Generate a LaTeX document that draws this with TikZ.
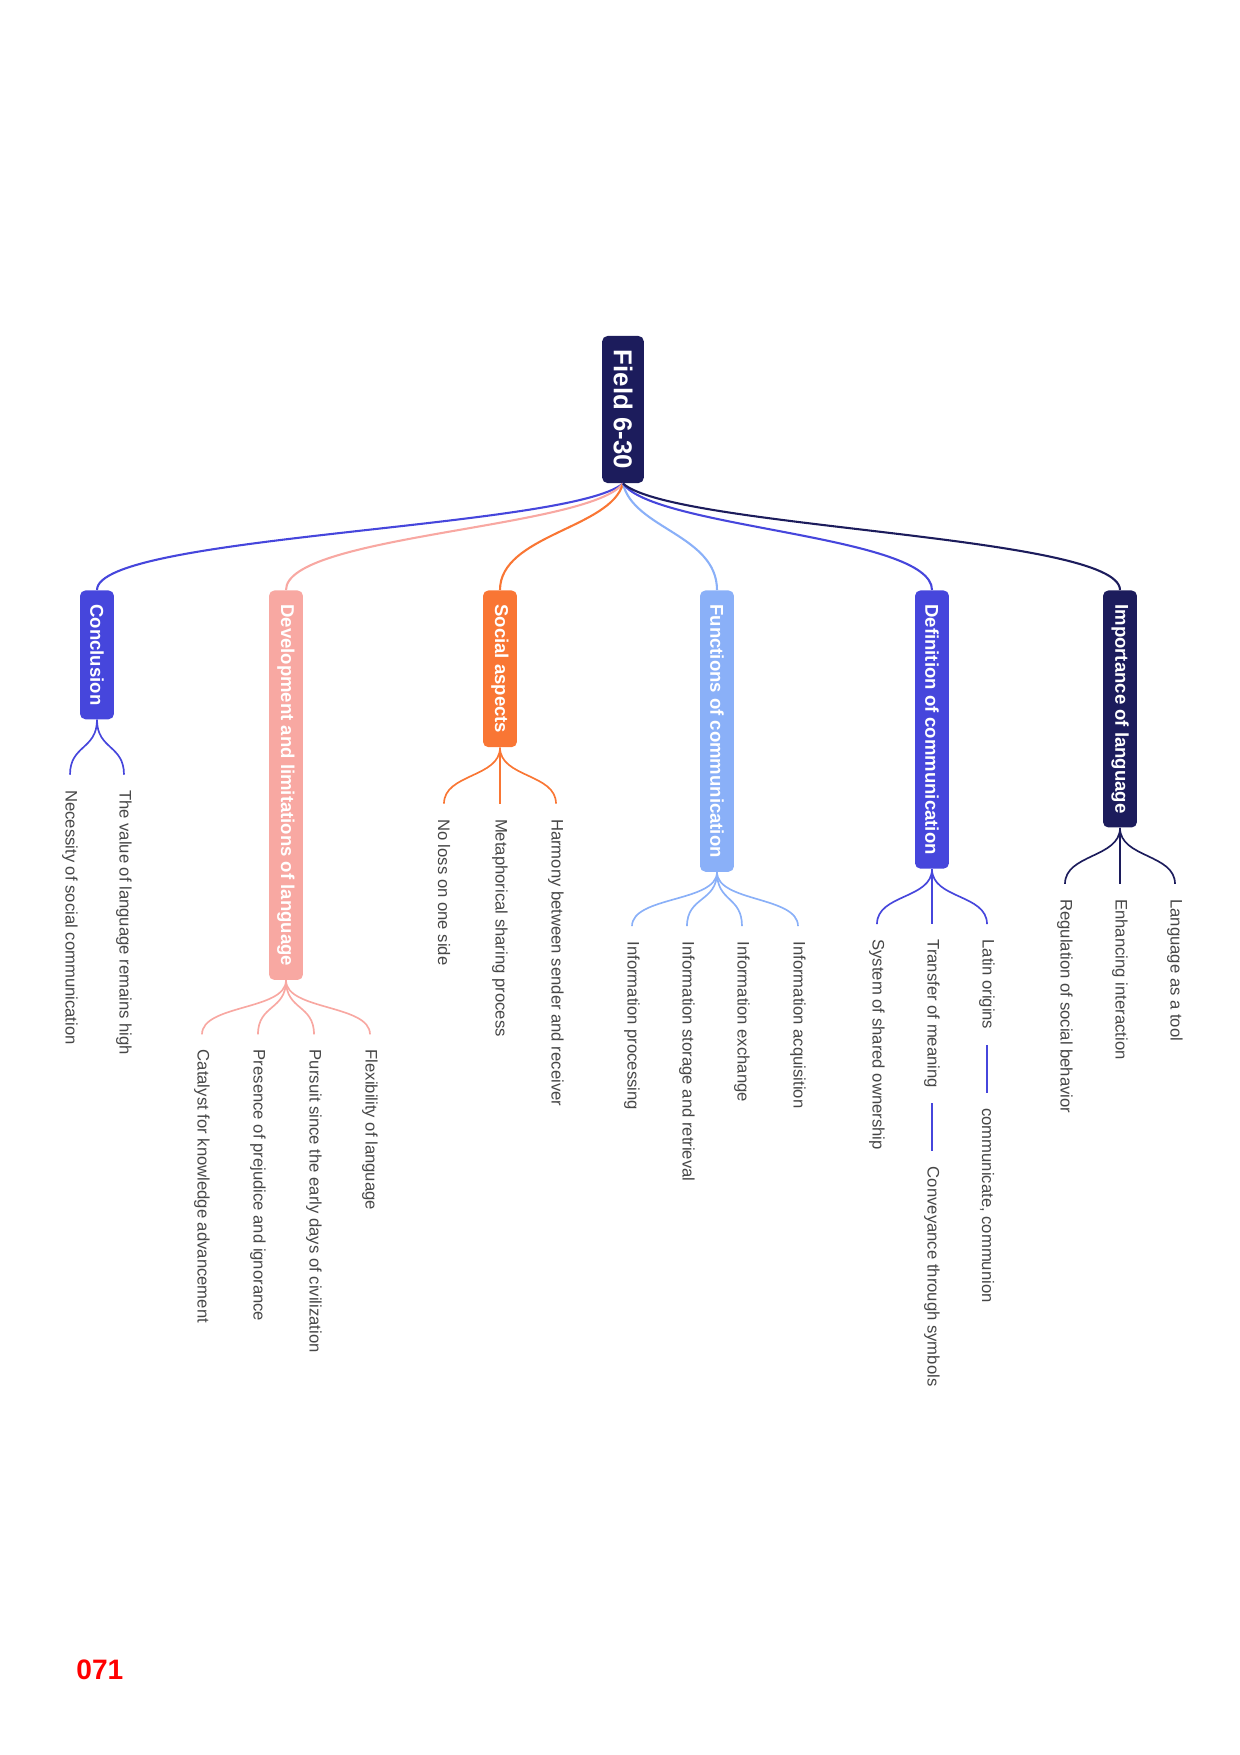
\documentclass[tikz,border=0pt]{standalone}
\usepackage{fontspec}
\setmainfont{Liberation Sans}
\usetikzlibrary{calc}
\definecolor{navy}{RGB}{28,28,92}
\definecolor{royal}{RGB}{70,70,220}
\definecolor{salmon}{RGB}{248,168,162}
\definecolor{tangerine}{RGB}{249,118,52}
\definecolor{sky}{RGB}{138,176,248}
\definecolor{leafgray}{RGB}{70,70,70}
\tikzset{
  topic/.style={rotate=-90, rounded corners=2.6pt, text=white, font=\bfseries\fontsize{8.9}{10}\selectfont, minimum height=16.3pt, inner xsep=6.7pt, inner ysep=0pt},
  roottopic/.style={topic, fill=navy, minimum height=20pt, font=\bfseries\fontsize{12.4}{14}\selectfont},
  leaf/.style={rotate=-90, anchor=west, text=leafgray, font=\fontsize{8}{9.6}\selectfont, inner xsep=7.2pt, inner ysep=1pt},
  limb/.style={line width=1pt},
  twig/.style={line width=0.8pt}
}
\def\fork[#1](#2)(#3){\draw[#1] (#2) .. controls +(0,30) and +(0,-30) .. (#3);}

\begin{document}
\begin{tikzpicture}[x=0.48pt, y=-0.48pt]
			%%%%% START %%%%%
			\useasboundingbox (0,0) rectangle (1240,1755);
			
			\node[roottopic] (root) at (623,409.5) {Field 6-30};
			
			\node[topic, fill=royal, anchor=west] (conc) at (97,590) {Conclusion};
			\node[topic, fill=salmon, anchor=west] (devl) at (286,590) {Development and limitations of language};
			\node[topic, fill=tangerine, anchor=west] (soc) at (500,590) {Social aspects};
			\node[topic, fill=sky, anchor=west] (func) at (717,590) {Functions of communication};
			\node[topic, fill=royal, anchor=west] (defn) at (932,590) {Definition of communication};
			\node[topic, fill=navy, anchor=west] (impo) at (1120,590) {Importance of language};
			
			\draw[limb, royal] (root.east) .. controls +(-53,45) and +(0,-55) .. (conc.west);
			\draw[limb, salmon] (root.east) .. controls +(-34,45) and +(0,-55) .. (devl.west);
			\draw[limb, tangerine] (root.east) .. controls +(-12,45) and +(0,-55) .. (soc.west);
			\draw[limb, sky] (root.east) .. controls +(10,45) and +(0,-55) .. (func.west);
			\draw[limb, royal] (root.east) .. controls +(31,45) and +(0,-55) .. (defn.west);
			\draw[limb, navy] (root.east) .. controls +(50,45) and +(0,-55) .. (impo.west);
			
			% Conclusion
			\node[leaf] (conc1) at ($(conc.east)+(27,55)$) {The value of language remains high};
			\node[leaf] (conc2) at ($(conc.east)+(-27,55)$) {Necessity of social communication};
			\fork[twig, royal](conc.east)(conc1.west)
			\fork[twig, royal](conc.east)(conc2.west)
			
			% Development and limitations
			\node[leaf] (devl1) at ($(devl.east)+(84,54)$) {Flexibility of language};
			\node[leaf] (devl2) at ($(devl.east)+(28,54)$) {Pursuit since the early days of civilization};
			\node[leaf] (devl3) at ($(devl.east)+(-28,54)$) {Presence of prejudice and ignorance};
			\node[leaf] (devl4) at ($(devl.east)+(-84,54)$) {Catalyst for knowledge advancement};
			\fork[twig, salmon](devl.east)(devl1.west)
			\fork[twig, salmon](devl.east)(devl2.west)
			\fork[twig, salmon](devl.east)(devl3.west)
			\fork[twig, salmon](devl.east)(devl4.west)
			
			% Social aspects
			\node[leaf] (soc1) at ($(soc.east)+(56,56)$) {Harmony between sender and receiver};
			\node[leaf] (soc2) at ($(soc.east)+(0,56)$) {Metaphorical sharing process};
			\node[leaf] (soc3) at ($(soc.east)+(-56,56)$) {No loss on one side};
			\fork[twig, tangerine](soc.east)(soc1.west)
			\fork[twig, tangerine](soc.east)(soc2.west)
			\fork[twig, tangerine](soc.east)(soc3.west)
			
			% Functions of communication
			\node[leaf] (func1) at ($(func.east)+(81,54)$) {Information acquisition};
			\node[leaf] (func2) at ($(func.east)+(25,54)$) {Information exchange};
			\node[leaf] (func3) at ($(func.east)+(-30,54)$) {Information storage and retrieval};
			\node[leaf] (func4) at ($(func.east)+(-85,54)$) {Information processing};
			\fork[twig, sky](func.east)(func1.west)
			\fork[twig, sky](func.east)(func2.west)
			\fork[twig, sky](func.east)(func3.west)
			\fork[twig, sky](func.east)(func4.west)
			
			% Definition of communication
			\node[leaf] (defn1) at ($(defn.east)+(55,55)$) {Latin origins};
			\node[leaf] (defn2) at ($(defn.east)+(0,55)$) {Transfer of meaning};
			\node[leaf] (defn3) at ($(defn.east)+(-55,55)$) {System of shared ownership};
			\fork[twig, royal](defn.east)(defn1.west)
			\fork[twig, royal](defn.east)(defn2.west)
			\fork[twig, royal](defn.east)(defn3.west)
			\node[leaf] (defn1a) at ($(defn1.east)+(0,48)$) {communicate, communion};
			\node[leaf] (defn2a) at ($(defn2.east)+(0,48)$) {Conveyance through symbols};
			\draw[twig, royal] (defn1.east) -- (defn1a.west);
			\draw[twig, royal] (defn2.east) -- (defn2a.west);
			
			% Importance of language
			\node[leaf] (impo1) at ($(impo.east)+(55,56)$) {Language as a tool};
			\node[leaf] (impo2) at ($(impo.east)+(0,56)$) {Enhancing interaction};
			\node[leaf] (impo3) at ($(impo.east)+(-55,56)$) {Regulation of social behavior};
			\fork[twig, navy](impo.east)(impo1.west)
			\fork[twig, navy](impo.east)(impo2.west)
			\fork[twig, navy](impo.east)(impo3.west)
			
			\node[anchor=base west, inner sep=0pt, text=red, font=\bfseries\fontsize{13.5}{16}\selectfont] (pageno) at (76,1679) {071};
			%%%%% END %%%%%
		\end{tikzpicture}
\end{document}
